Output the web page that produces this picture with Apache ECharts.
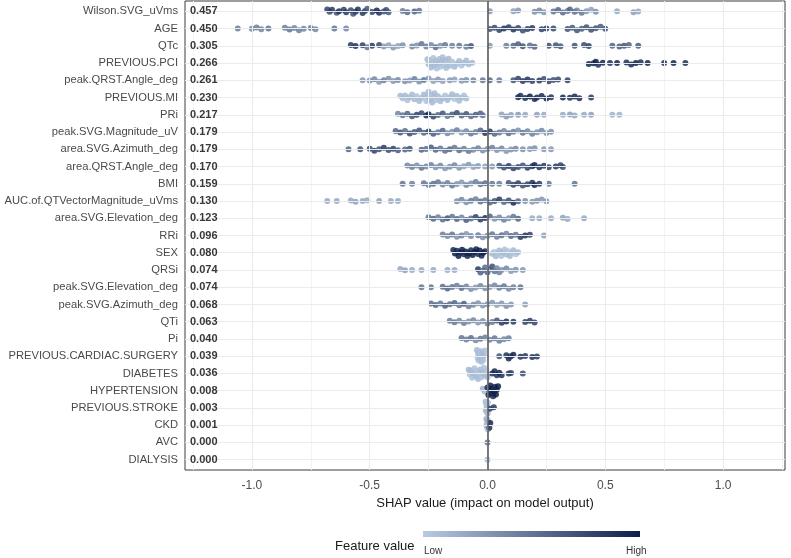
<!DOCTYPE html>
<html>
<head>
<meta charset="utf-8">
<script src="https://cdn.jsdelivr.net/npm/echarts@6/dist/echarts.min.js"></script>
<style>
html,body{margin:0;padding:0;background:#fff;}
#chart{width:791px;height:558px;}
</style>
</head>
<body>
<div id="chart"></div>
<script>
// ---------- DATA ----------
const features = ['Wilson.SVG_uVms','AGE','QTc','PREVIOUS.PCI','peak.QRST.Angle_deg','PREVIOUS.MI','PRi',
  'peak.SVG.Magnitude_uV','area.SVG.Azimuth_deg','area.QRST.Angle_deg','BMI','AUC.of.QTVectorMagnitude_uVms',
  'area.SVG.Elevation_deg','RRi','SEX','QRSi','peak.SVG.Elevation_deg','peak.SVG.Azimuth_deg','QTi','Pi',
  'PREVIOUS.CARDIAC.SURGERY','DIABETES','HYPERTENSION','PREVIOUS.STROKE','CKD','AVC','DIALYSIS'];
const meanAbsShap = [0.457,0.450,0.305,0.266,0.261,0.230,0.217,0.179,0.179,0.170,0.159,0.130,0.123,0.096,
  0.080,0.074,0.074,0.068,0.063,0.040,0.039,0.036,0.008,0.003,0.001,0.000,0.000];
const xTicks = [-1.0,-0.5,0.0,0.5,1.0];
const xMinorGrid = [-1.25,-0.75,-0.25,0.25,0.75,1.25];

// each point: [SHAP value, normalised feature value 0..1]
const wilson = [[-0.68,0.8],[-0.67,0.75],[-0.66,0.85],[-0.64,0.7],[-0.63,0.9],[-0.61,0.8],[-0.60,0.85],[-0.58,0.75],[-0.57,0.7],[-0.56,0.8],[-0.55,0.9],[-0.53,0.85],[-0.52,0.75],[-0.51,0.65],[-0.49,0.8],[-0.47,0.95],[-0.46,0.9],[-0.44,0.7],[-0.43,0.75],[-0.42,0.65],[-0.36,0.45],[-0.34,0.55],[-0.31,0.6],[-0.29,0.5],[0.01,0.3],[0.11,0.25],[0.13,0.3],[0.20,0.35],[0.22,0.4],[0.24,0.3],[0.28,0.5],[0.30,0.6],[0.32,0.55],[0.34,0.45],[0.35,0.6],[0.37,0.55],[0.38,0.4],[0.40,0.5],[0.42,0.3],[0.44,0.25],[0.46,0.35],[0.55,0.2],[0.62,0.25],[0.64,0.2]];
const age = [[-1.06,0.45],[-1.00,0.4],[-0.98,0.45],[-0.96,0.4],[-0.93,0.5],[-0.86,0.45],[-0.84,0.5],[-0.82,0.4],[-0.80,0.45],[-0.78,0.4],[-0.75,0.45],[-0.73,0.4],[-0.65,0.5],[-0.60,0.4],[0.01,0.7],[0.03,0.75],[0.05,0.8],[0.07,0.9],[0.09,0.85],[0.11,0.9],[0.13,0.8],[0.15,0.75],[0.17,0.8],[0.19,0.85],[0.23,0.8],[0.25,0.85],[0.28,0.75],[0.34,0.7],[0.36,0.65],[0.38,0.7],[0.40,0.65],[0.42,0.7],[0.44,0.75],[0.46,0.7],[0.48,0.65],[0.50,0.7]];
const qtc = [[-0.58,0.85],[-0.56,0.9],[-0.53,0.8],[-0.51,0.5],[-0.49,0.85],[-0.46,0.75],[-0.44,0.3],[-0.42,0.25],[-0.40,0.3],[-0.38,0.25],[-0.36,0.35],[-0.32,0.4],[-0.30,0.35],[-0.28,0.5],[-0.26,0.45],[-0.24,0.4],[-0.22,0.55],[-0.20,0.35],[-0.18,0.5],[-0.15,0.45],[-0.12,0.5],[-0.09,0.45],[-0.07,0.7],[0.01,0.3],[0.08,0.45],[0.11,0.6],[0.13,0.65],[0.15,0.7],[0.18,0.55],[0.20,0.6],[0.26,0.75],[0.29,0.7],[0.31,0.65],[0.37,0.7],[0.41,0.75],[0.43,0.8],[0.53,0.6],[0.56,0.65],[0.58,0.7],[0.60,0.6],[0.64,0.65]];
const prevPci = [[-0.255,0.08],[-0.25,0.1],[-0.245,0.05],[-0.24,0.1],[-0.235,0.08],[-0.23,0.05],[-0.225,0.1],[-0.22,0.08],[-0.215,0.05],[-0.21,0.1],[-0.205,0.08],[-0.20,0.05],[-0.195,0.1],[-0.19,0.08],[-0.185,0.05],[-0.18,0.1],[-0.175,0.08],[-0.17,0.05],[-0.165,0.1],[-0.16,0.08],[-0.15,0.05],[-0.14,0.1],[-0.13,0.08],[-0.12,0.1],[-0.11,0.05],[-0.10,0.1],[-0.09,0.08],[-0.08,0.1],[-0.065,0.1],[0.43,0.95],[0.45,0.95],[0.46,1.0],[0.47,0.9],[0.49,0.95],[0.52,0.9],[0.55,0.95],[0.59,0.9],[0.61,0.95],[0.63,1.0],[0.65,0.9],[0.68,0.95],[0.75,0.9],[0.79,0.95],[0.84,0.9]];
const peakQrst = [[-0.53,0.3],[-0.50,0.35],[-0.48,0.4],[-0.46,0.3],[-0.44,0.45],[-0.42,0.35],[-0.40,0.3],[-0.38,0.4],[-0.35,0.35],[-0.33,0.3],[-0.31,0.45],[-0.29,0.35],[-0.27,0.5],[-0.25,0.3],[-0.23,0.25],[-0.21,0.3],[-0.19,0.25],[-0.16,0.3],[-0.14,0.25],[-0.11,0.3],[-0.09,0.35],[-0.06,0.4],[-0.02,0.5],[0.01,0.55],[0.05,0.45],[0.11,0.7],[0.13,0.8],[0.15,0.85],[0.17,0.9],[0.19,0.8],[0.22,0.85],[0.24,0.75],[0.26,0.8],[0.28,0.7],[0.30,0.75],[0.34,0.8]];
const prevMi = [[-0.37,0.1],[-0.36,0.08],[-0.35,0.1],[-0.34,0.05],[-0.33,0.1],[-0.32,0.08],[-0.31,0.1],[-0.30,0.05],[-0.29,0.1],[-0.28,0.08],[-0.27,0.1],[-0.26,0.05],[-0.255,0.1],[-0.25,0.08],[-0.245,0.1],[-0.24,0.05],[-0.235,0.1],[-0.23,0.08],[-0.225,0.1],[-0.22,0.05],[-0.21,0.1],[-0.20,0.08],[-0.19,0.1],[-0.18,0.05],[-0.17,0.1],[-0.16,0.08],[-0.15,0.1],[-0.14,0.05],[-0.13,0.1],[-0.12,0.08],[-0.11,0.1],[-0.10,0.05],[-0.09,0.1],[0.13,0.95],[0.14,0.9],[0.16,0.95],[0.18,1.0],[0.20,0.95],[0.21,0.9],[0.23,0.95],[0.25,1.0],[0.27,0.9],[0.32,0.95],[0.35,0.9],[0.37,0.95],[0.39,0.9],[0.44,0.85]];
const pri = [[-0.38,0.4],[-0.36,0.5],[-0.34,0.6],[-0.32,0.7],[-0.30,0.8],[-0.28,0.75],[-0.26,0.9],[-0.25,0.95],[-0.23,0.8],[-0.21,0.6],[-0.19,0.7],[-0.17,0.5],[-0.15,0.65],[-0.13,0.75],[-0.11,0.6],[-0.09,0.7],[-0.07,0.55],[-0.05,0.65],[-0.03,0.6],[-0.02,0.5],[0.06,0.25],[0.08,0.3],[0.10,0.25],[0.13,0.3],[0.16,0.2],[0.21,0.25],[0.24,0.2],[0.32,0.2],[0.35,0.25],[0.37,0.2],[0.41,0.2],[0.44,0.25],[0.53,0.15],[0.56,0.15]];
const peakSvgMag = [[-0.39,0.6],[-0.37,0.7],[-0.35,0.55],[-0.33,0.75],[-0.31,0.65],[-0.29,0.7],[-0.27,0.6],[-0.25,0.8],[-0.23,0.65],[-0.21,0.5],[-0.19,0.6],[-0.17,0.4],[-0.15,0.35],[-0.13,0.45],[-0.11,0.3],[-0.09,0.4],[-0.07,0.5],[-0.05,0.45],[-0.03,0.6],[-0.01,0.9],[0.01,0.85],[0.03,0.6],[0.05,0.5],[0.07,0.4],[0.09,0.55],[0.11,0.45],[0.13,0.35],[0.15,0.5],[0.17,0.4],[0.19,0.45],[0.21,0.35],[0.23,0.4],[0.25,0.3],[0.27,0.35]];
const areaSvgAz = [[-0.59,0.6],[-0.54,0.7],[-0.50,0.75],[-0.48,0.8],[-0.46,0.7],[-0.44,0.85],[-0.42,0.75],[-0.40,0.8],[-0.38,0.65],[-0.35,0.6],[-0.33,0.7],[-0.28,0.6],[-0.26,0.55],[-0.24,0.65],[-0.22,0.6],[-0.20,0.5],[-0.18,0.55],[-0.16,0.6],[-0.14,0.5],[-0.12,0.55],[-0.10,0.45],[-0.08,0.5],[-0.06,0.4],[-0.04,0.45],[-0.02,0.35],[0.00,0.4],[0.02,0.45],[0.04,0.35],[0.06,0.4],[0.08,0.3],[0.10,0.35],[0.12,0.4],[0.15,0.35],[0.18,0.3],[0.20,0.35],[0.24,0.3],[0.27,0.3]];
const areaQrst = [[-0.34,0.4],[-0.32,0.45],[-0.30,0.35],[-0.28,0.5],[-0.26,0.4],[-0.24,0.45],[-0.22,0.35],[-0.20,0.4],[-0.18,0.3],[-0.16,0.35],[-0.14,0.4],[-0.12,0.3],[-0.10,0.25],[-0.08,0.3],[-0.06,0.25],[-0.04,0.3],[-0.01,0.25],[0.02,0.3],[0.05,0.7],[0.07,0.75],[0.09,0.85],[0.11,0.8],[0.13,0.75],[0.15,0.7],[0.17,0.8],[0.19,0.9],[0.20,0.95],[0.22,0.9],[0.24,0.85],[0.26,0.8],[0.29,0.85],[0.31,0.8],[0.32,0.75]];
const bmi = [[-0.36,0.5],[-0.32,0.45],[-0.27,0.5],[-0.25,0.45],[-0.23,0.55],[-0.21,0.5],[-0.19,0.4],[-0.17,0.45],[-0.15,0.5],[-0.13,0.35],[-0.11,0.3],[-0.09,0.4],[-0.07,0.35],[-0.05,0.45],[-0.03,0.5],[-0.01,0.55],[0.02,0.5],[0.05,0.45],[0.09,0.7],[0.11,0.8],[0.13,0.85],[0.15,0.75],[0.17,0.8],[0.19,0.9],[0.20,0.95],[0.22,0.85],[0.26,0.5],[0.37,0.5]];
const aucQt = [[-0.68,0.2],[-0.64,0.2],[-0.58,0.2],[-0.56,0.25],[-0.53,0.2],[-0.51,0.2],[-0.46,0.25],[-0.41,0.2],[-0.38,0.2],[-0.13,0.35],[-0.11,0.4],[-0.09,0.35],[-0.07,0.5],[-0.05,0.45],[-0.03,0.55],[-0.01,0.5],[0.01,0.6],[0.03,0.7],[0.05,0.85],[0.07,0.6],[0.09,0.75],[0.11,0.95],[0.13,0.6],[0.16,0.35],[0.19,0.3],[0.21,0.35],[0.23,0.3],[0.25,0.3]];
const areaSvgEl = [[-0.25,0.5],[-0.23,0.6],[-0.21,0.45],[-0.19,0.55],[-0.17,0.7],[-0.15,0.5],[-0.13,0.6],[-0.11,0.4],[-0.09,0.65],[-0.07,0.55],[-0.05,0.8],[-0.03,0.85],[-0.01,0.9],[0.01,0.6],[0.03,0.35],[0.05,0.4],[0.07,0.45],[0.09,0.35],[0.11,0.5],[0.13,0.6],[0.19,0.2],[0.22,0.2],[0.27,0.2],[0.32,0.25],[0.34,0.2],[0.41,0.2]];
const rri = [[-0.19,0.45],[-0.17,0.4],[-0.15,0.5],[-0.13,0.35],[-0.11,0.45],[-0.09,0.3],[-0.07,0.4],[-0.04,0.45],[-0.02,0.35],[0.00,0.4],[0.02,0.5],[0.04,0.45],[0.06,0.55],[0.08,0.4],[0.10,0.6],[0.12,0.5],[0.14,0.85],[0.16,0.9],[0.18,0.8],[0.24,0.25]];
const sex = [[-0.145,0.95],[-0.138,1.0],[-0.13,0.95],[-0.123,1.0],[-0.115,0.95],[-0.108,1.0],[-0.10,0.95],[-0.093,1.0],[-0.085,0.95],[-0.078,1.0],[-0.07,0.95],[-0.063,1.0],[-0.055,0.95],[-0.048,1.0],[-0.04,0.95],[-0.033,1.0],[-0.025,0.95],[-0.018,1.0],[-0.01,0.95],[0.02,0.1],[0.028,0.05],[0.035,0.1],[0.043,0.05],[0.05,0.1],[0.058,0.05],[0.065,0.1],[0.073,0.05],[0.08,0.1],[0.088,0.05],[0.095,0.1],[0.103,0.05],[0.11,0.1],[0.12,0.05],[0.13,0.1]];
const qrsi = [[-0.37,0.2],[-0.35,0.25],[-0.32,0.2],[-0.28,0.2],[-0.23,0.2],[-0.17,0.2],[-0.14,0.2],[-0.04,0.85],[-0.03,0.6],[-0.02,0.5],[-0.01,0.55],[0.00,0.6],[0.01,0.45],[0.02,0.7],[0.03,0.5],[0.04,0.4],[0.05,0.45],[0.06,0.35],[0.08,0.4],[0.10,0.3],[0.12,0.35],[0.15,0.3]];
const peakSvgEl = [[-0.28,0.5],[-0.24,0.5],[-0.19,0.55],[-0.17,0.6],[-0.15,0.5],[-0.13,0.45],[-0.11,0.55],[-0.09,0.4],[-0.07,0.35],[-0.05,0.3],[-0.03,0.4],[-0.01,0.35],[0.01,0.3],[0.03,0.4],[0.05,0.45],[0.07,0.5],[0.09,0.4],[0.11,0.45],[0.14,0.5]];
const peakSvgAz = [[-0.24,0.55],[-0.22,0.6],[-0.20,0.5],[-0.18,0.65],[-0.16,0.55],[-0.14,0.6],[-0.12,0.5],[-0.10,0.65],[-0.08,0.45],[-0.06,0.4],[-0.04,0.35],[-0.02,0.3],[0.00,0.35],[0.02,0.3],[0.04,0.25],[0.06,0.3],[0.08,0.35],[0.10,0.3],[0.16,0.25]];
const qti = [[-0.16,0.45],[-0.14,0.5],[-0.12,0.4],[-0.10,0.45],[-0.08,0.35],[-0.06,0.4],[-0.04,0.3],[-0.02,0.35],[0.00,0.4],[0.02,0.5],[0.04,0.7],[0.06,0.85],[0.08,0.9],[0.11,0.85],[0.16,0.8],[0.18,0.85],[0.20,0.8]];
const pi = [[-0.11,0.5],[-0.09,0.45],[-0.07,0.55],[-0.05,0.4],[-0.03,0.5],[-0.01,0.45],[0.01,0.4],[0.03,0.5],[0.05,0.45],[0.07,0.4],[0.09,0.45]];
const prevSurgery = [[-0.045,0.1],[-0.042,0.05],[-0.04,0.1],[-0.038,0.05],[-0.035,0.1],[-0.032,0.05],[-0.03,0.1],[-0.028,0.05],[-0.025,0.1],[-0.022,0.05],[-0.02,0.1],[-0.018,0.05],[-0.015,0.1],[-0.012,0.05],[0.05,0.7],[0.08,0.9],[0.09,0.95],[0.10,0.9],[0.11,0.95],[0.14,0.9],[0.16,0.85],[0.19,0.9],[0.21,0.85]];
const diabetes = [[-0.08,0.1],[-0.075,0.05],[-0.07,0.1],[-0.065,0.05],[-0.06,0.1],[-0.055,0.05],[-0.05,0.1],[-0.045,0.05],[-0.04,0.1],[-0.035,0.05],[-0.03,0.1],[-0.025,0.05],[-0.02,0.1],[-0.015,0.05],[-0.01,0.1],[-0.005,0.05],[0.00,0.1],[0.02,0.9],[0.03,0.95],[0.04,0.9],[0.05,0.95],[0.06,0.9],[0.09,0.85],[0.10,0.8],[0.15,0.75]];
const hypertension = [[-0.02,0.15],[-0.012,0.1],[0.00,0.95],[0.004,1.0],[0.008,0.95],[0.012,1.0],[0.016,0.95],[0.02,1.0],[0.024,0.95],[0.028,1.0],[0.032,0.95],[0.036,1.0],[0.04,0.95],[0.045,1.0]];
const prevStroke = [[-0.008,0.1],[-0.006,0.05],[-0.004,0.1],[-0.002,0.05],[0.0,0.1],[0.002,0.05],[-0.007,0.1],[-0.003,0.05],[0.001,0.1],[0.010,0.8],[0.027,0.85]];
const ckd = [[-0.005,0.15],[-0.003,0.1],[0.0,0.15],[0.002,0.1],[-0.004,0.1],[0.001,0.15],[0.008,0.9],[0.012,0.95]];
const avc = [[0.0,0.5]];
const dialysis = [[0.0,0.1]];

const pointSets = [wilson, age, qtc, prevPci, peakQrst, prevMi, pri, peakSvgMag, areaSvgAz, areaQrst, bmi, aucQt,
  areaSvgEl, rri, sex, qrsi, peakSvgEl, peakSvgAz, qti, pi, prevSurgery, diabetes, hypertension, prevStroke, ckd, avc, dialysis];

// ---------- STYLE ----------
const lowColor = '#b6cbe2';
const highColor = '#0c1f4a';
const FONT = 'Liberation Sans, Arial, sans-serif';

// sina-like vertical spread: proportional to local point density (layout only)
function spread(pts) {
  const g = 0.6180339887;
  return pts.map((p, j) => {
    let n = 0;
    for (const q of pts) if (Math.abs(q[0] - p[0]) <= 0.022) n++;
    const w = Math.min(0.36, 0.055 * (n - 1));
    const u = ((j * g) % 1) * 2 - 1;
    return u * w;
  });
}

const scatterData = [];
pointSets.forEach((pts, i) => {
  const off = spread(pts);
  pts.forEach((p, j) => scatterData.push([p[0], i + off[j], p[1]]));
});

const rowIdx = features.map((_, i) => i);

const chart = echarts.init(document.getElementById('chart'), null, {renderer: 'canvas'});
const yBase = {
  type: 'value', min: -0.6, max: 26.6, inverse: true,
  splitLine: {show: false}, axisLine: {show: false},
  axisTick: {show: false}, z: 10
};
chart.setOption({
  animation: false,
  backgroundColor: '#ffffff',
  grid: {left: 185, right: 6, top: 1, bottom: 88, outerBoundsMode: 'none', containLabel: false,
    show: true, borderColor: '#3c3c3c', borderWidth: 1, backgroundColor: 'transparent'},
  xAxis: {
    type: 'value', min: -1.284, max: 1.263,
    splitLine: {show: false}, axisLine: {show: false},
    axisTick: {show: true, customValues: xTicks, length: 4, lineStyle: {color: '#444'}},
    axisLabel: {customValues: xTicks, formatter: v => v.toFixed(1), color: '#4d4d4d', fontSize: 12, fontFamily: FONT, margin: 10},
    name: 'SHAP value (impact on model output)', nameLocation: 'middle', nameGap: 25,
    nameTextStyle: {color: '#1a1a1a', fontSize: 13, fontFamily: FONT}
  },
  yAxis: [
    Object.assign({}, yBase, {
      position: 'left',
      axisLabel: {customValues: rowIdx, formatter: v => features[Math.round(v)], color: '#4a4a4a', fontSize: 11.2, fontFamily: FONT, margin: 7}
    }),
    Object.assign({}, yBase, {
      position: 'left',
      axisLabel: {customValues: rowIdx, inside: true, formatter: v => meanAbsShap[Math.round(v)].toFixed(3), color: '#383838', fontSize: 11, fontWeight: 'bold', fontFamily: FONT, margin: 5}
    })
  ],
  visualMap: {
    show: false, type: 'continuous', min: 0, max: 1, dimension: 2, seriesIndex: 1,
    inRange: {color: [lowColor, highColor]}
  },
  series: [
    {
      type: 'scatter', data: [], silent: true, z: 1,
      markLine: {
        silent: true, symbol: ['none', 'none'], label: {show: false},
        lineStyle: {color: '#ebebeb', width: 1, type: 'solid'},
        data: [].concat(
          xTicks.map(v => ({xAxis: v})),
          xMinorGrid.map(v => ({xAxis: v, lineStyle: {color: '#f3f3f3', width: 1, type: 'solid'}})),
          rowIdx.map(i => ({yAxis: i}))
        )
      }
    },
    {
      type: 'scatter', data: scatterData, symbolSize: 6, z: 2,
      itemStyle: {opacity: 0.85}
    },
    {
      type: 'scatter', data: [], silent: true, z: 3,
      markLine: {
        silent: true, symbol: ['none', 'none'], label: {show: false},
        lineStyle: {color: '#5a5a5a', width: 1.6, type: 'solid'},
        data: [{xAxis: 0}]
      }
    }
  ],
  graphic: [
    {type: 'rect', left: 423, top: 531, shape: {width: 217, height: 6}, silent: true,
      style: {fill: new echarts.graphic.LinearGradient(0, 0, 1, 0, [{offset: 0, color: lowColor}, {offset: 1, color: highColor}])}},
    {type: 'text', left: 335, top: 540, silent: true, style: {text: 'Feature value', fill: '#1a1a1a', font: '13px ' + FONT}},
    {type: 'text', left: 424, top: 546, silent: true, style: {text: 'Low', fill: '#333', font: '10px ' + FONT}},
    {type: 'text', left: 626, top: 546, silent: true, style: {text: 'High', fill: '#333', font: '10px ' + FONT}}
  ]
});
</script>
</body>
</html>
